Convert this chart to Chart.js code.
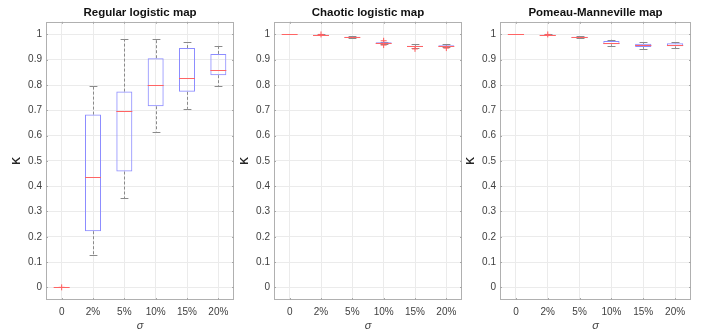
<!DOCTYPE html>
<html><head><meta charset="utf-8">
<script src="https://cdn.jsdelivr.net/npm/chart.js@4.4.1/dist/chart.umd.min.js"></script>
<style>
html,body{margin:0;padding:0;background:#fff;overflow:hidden;width:711px;height:331px;}
canvas{position:absolute;top:0;}
</style></head><body>
<canvas id="c1" width="240" height="331" style="left:0px"></canvas>
<canvas id="c2" width="240" height="331" style="left:228px"></canvas>
<canvas id="c3" width="257" height="331" style="left:454px"></canvas>
<script>
// ---- data ----
const categories = ['0', '2%', '5%', '10%', '15%', '20%'];
const kTicks = [0, 0.1, 0.2, 0.3, 0.4, 0.5, 0.6, 0.7, 0.8, 0.9, 1];

const regularLow      = [0, 0.126, 0.352, 0.616, 0.706, 0.796];
const regularQ1       = [0, 0.222, 0.458, 0.716, 0.773, 0.839];
const regularMedian   = [0, 0.435, 0.699, 0.800, 0.828, 0.860];
const regularQ3       = [0, 0.683, 0.774, 0.906, 0.946, 0.923];
const regularHigh     = [0, 0.795, 0.981, 0.983, 0.970, 0.955];
const regularOutliers = [[0], [], [], [], [], []];

const chaoticLow      = [1.0, 0.998, 0.987, 0.961, 0.947, 0.950];
const chaoticQ1       = [1.0, 0.9985, 0.988, 0.963, 0.950, 0.952];
const chaoticMedian   = [1.0, 0.999, 0.990, 0.966, 0.953, 0.955];
const chaoticQ3       = [1.0, 0.9995, 0.991, 0.969, 0.955, 0.957];
const chaoticHigh     = [1.0, 1.0, 0.993, 0.971, 0.961, 0.962];
const chaoticOutliers = [[], [1.0], [], [0.975, 0.958], [0.943], [0.946]];

const pmLow      = [1.0, 0.998, 0.984, 0.955, 0.943, 0.945];
const pmQ1       = [1.0, 0.9985, 0.986, 0.961, 0.950, 0.953];
const pmMedian   = [1.0, 0.999, 0.988, 0.967, 0.957, 0.959];
const pmQ3       = [1.0, 0.9995, 0.991, 0.974, 0.963, 0.965];
const pmHigh     = [1.0, 1.0, 0.993, 0.979, 0.969, 0.970];
const pmOutliers = [[], [1.0], [], [], [], []];

const FONT = "'Liberation Sans', Arial, Helvetica, sans-serif";

const boxPlugin = {
  id: 'boxwhisk',
  beforeDatasetsDraw(chart) {
    const {ctx, chartArea: a, scales: {x, y}} = chart;
    const st = chart.options.plugins.boxwhisk.stats;
    const catW = x.getPixelForValue(1) - x.getPixelForValue(0);
    ctx.save();
    ctx.strokeStyle = '#b0b0b0';
    ctx.lineWidth = 1;
    ctx.strokeRect(Math.round(a.left) + 0.5, Math.round(a.top) + 0.5,
                   Math.round(a.right - a.left) - 1, Math.round(a.bottom - a.top) - 1);
    // small inward tick marks
    ctx.strokeStyle = '#a8a8a8';
    ctx.beginPath();
    kTicks.forEach(v => {
      const py = Math.round(y.getPixelForValue(v)) + 0.5;
      ctx.moveTo(a.left, py); ctx.lineTo(a.left + 2, py);
      ctx.moveTo(a.right, py); ctx.lineTo(a.right - 2, py);
    });
    categories.forEach((c, i) => {
      const px = Math.round(x.getPixelForValue(i)) + 0.5;
      ctx.moveTo(px, a.bottom); ctx.lineTo(px, a.bottom - 2);
      ctx.moveTo(px, a.top); ctx.lineTo(px, a.top + 2);
    });
    ctx.stroke();
    // whiskers and caps (drawn under the boxes)
    st.median.forEach((m, i) => {
      const cx = Math.round(x.getPixelForValue(i)) + 0.5;
      const yl = y.getPixelForValue(st.low[i]), yq1 = y.getPixelForValue(st.q1[i]);
      const yq3 = y.getPixelForValue(st.q3[i]), yh = y.getPixelForValue(st.high[i]);
      ctx.strokeStyle = '#8a8a8a';
      ctx.setLineDash([3, 2]);
      ctx.beginPath();
      ctx.moveTo(cx, yq3); ctx.lineTo(cx, yh);
      ctx.moveTo(cx, yq1); ctx.lineTo(cx, yl);
      ctx.stroke();
      ctx.setLineDash([]);
      const cw = catW * 0.125;
      ctx.beginPath();
      ctx.moveTo(cx - cw, Math.round(yh) + 0.5); ctx.lineTo(cx + cw, Math.round(yh) + 0.5);
      ctx.moveTo(cx - cw, Math.round(yl) + 0.5); ctx.lineTo(cx + cw, Math.round(yl) + 0.5);
      ctx.stroke();
    });
    ctx.restore();
  },
  afterDatasetsDraw(chart) {
    const st = chart.options.plugins.boxwhisk.stats;
    const {ctx, scales: {y}} = chart;
    const bars = chart.getDatasetMeta(0).data;
    ctx.save();
    ctx.lineWidth = 1;
    ctx.strokeStyle = '#ff6464';
    st.median.forEach((m, i) => {
      const b = bars[i];
      const half = b.width / 2;
      const ym = Math.round(y.getPixelForValue(m)) + 0.5;
      ctx.beginPath();
      ctx.moveTo(b.x - half, ym); ctx.lineTo(b.x + half, ym);
      ctx.stroke();
    });
    ctx.restore();
  }
};

function makeChart(id, title, low, q1, med, q3, high, outl, padRight) {
  const outlierPts = [];
  outl.forEach((arr, i) => arr.forEach(v => outlierPts.push({x: categories[i], y: v})));
  return new Chart(document.getElementById(id), {
    type: 'bar',
    data: {
      labels: categories,
      datasets: [
        {
          type: 'bar',
          data: q1.map((v, i) => [v, q3[i]]),
          backgroundColor: 'rgba(0,0,0,0)',
          borderColor: '#8c8cff',
          borderWidth: 1,
          borderSkipped: false,
          barPercentage: 0.51,
          categoryPercentage: 1.0
        },
        {
          type: 'line',
          data: outlierPts,
          showLine: false,
          pointStyle: 'cross',
          pointRadius: 3,
          borderColor: '#ff5a5a',
          borderWidth: 1,
          backgroundColor: '#ff5a5a'
        }
      ]
    },
    options: {
      responsive: false,
      animation: false,
      layout: {padding: {left: 0, right: padRight, top: 0, bottom: 0}},
      plugins: {
        legend: {display: false},
        tooltip: {enabled: false},
        title: {
          display: true, text: title, fullSize: false,
          font: {family: FONT, size: 11.5, weight: 'bold'},
          color: '#111', padding: {top: 6, bottom: 2}
        },
        boxwhisk: {stats: {low, q1, median: med, q3, high}}
      },
      scales: {
        x: {
          offset: true,
          afterFit: s => { s.height = 31; },
          grid: {offset: false, color: '#ebebeb', drawTicks: false},
          border: {display: false},
          ticks: {font: {family: FONT, size: 10}, color: '#404040', padding: 6, maxRotation: 0, autoSkip: false},
          title: {display: true, text: 'σ', font: {family: FONT, size: 11, style: 'italic', lineHeight: 1},
                  color: '#404040', padding: {top: 0, bottom: 0}}
        },
        y: {
          min: -0.05, max: 1.05,
          afterBuildTicks: s => { s.ticks = kTicks.map(v => ({value: v})); },
          afterFit: s => { s.width = 46; },
          grid: {color: '#ebebeb', drawTicks: false},
          border: {display: false},
          ticks: {font: {family: FONT, size: 10}, color: '#404040', padding: 4,
                  callback: v => String(+Number(v).toFixed(1))},
          title: {display: true, text: 'K', font: {family: FONT, size: 11, weight: 'bold', lineHeight: 1},
                  color: '#262626', padding: {top: 11.5, bottom: 0}}
        }
      }
    },
    plugins: [boxPlugin]
  });
}

makeChart('c1', 'Regular logistic map', regularLow, regularQ1, regularMedian, regularQ3, regularHigh, regularOutliers, 6);
makeChart('c2', 'Chaotic logistic map', chaoticLow, chaoticQ1, chaoticMedian, chaoticQ3, chaoticHigh, chaoticOutliers, 6);
makeChart('c3', 'Pomeau-Manneville map', pmLow, pmQ1, pmMedian, pmQ3, pmHigh, pmOutliers, 20);
</script>
</body></html>
